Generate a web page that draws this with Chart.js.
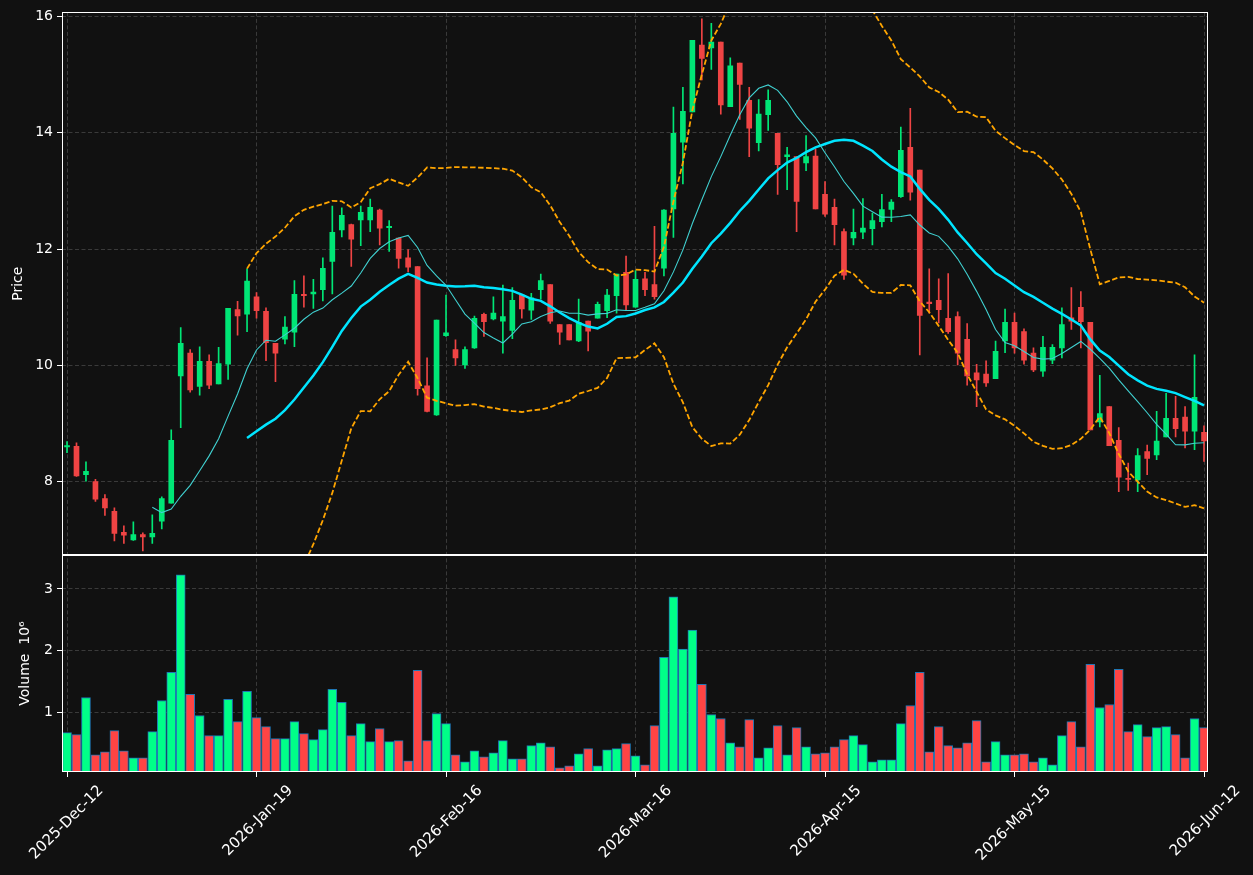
<!DOCTYPE html>
<html lang="en">
<head>
    <meta charset="UTF-8">
    <title>Candlestick with volume</title>
    <script src="https://cdn.jsdelivr.net/npm/chart.js"></script>
    <style>
        html, body { margin: 0; padding: 0; background: #111111; }
        #wrap { width: 1253px; height: 875px; }
    </style>
</head>
<body>
    <div id="wrap"><canvas id="myChart" width="1253" height="875"></canvas></div>

    <script>
        // daily bars, index 0 = 2025-Dec-12 ... index 120 = 2026-Jun-12
        const opens = [8.60, 8.61, 8.12, 8.00, 7.71, 7.49, 7.13, 7.00, 7.09, 7.05,
            7.32, 7.63, 9.82, 10.21, 9.64, 10.07, 9.68, 10.02, 10.96, 10.88,
            11.18, 10.93, 10.38, 10.45, 10.57, 11.22, 11.23, 11.30, 11.79, 12.33,
            12.42, 12.50, 12.50, 12.67, 12.37, 12.19, 11.85, 11.70, 9.65, 9.15,
            10.51, 10.27, 10.01, 10.30, 10.88, 10.80, 10.76, 10.60, 11.21, 10.95,
            11.30, 11.39, 10.70, 10.70, 10.42, 10.76, 10.81, 10.94, 11.20, 11.60,
            11.00, 11.49, 11.39, 11.67, 12.69, 13.84, 14.36, 15.51, 15.46, 15.56,
            14.45, 15.20, 14.56, 13.83, 14.31, 13.99, 13.59, 13.59, 13.48, 13.60,
            12.94, 12.72, 12.30, 12.19, 12.29, 12.35, 12.47, 12.68, 12.90, 13.75,
            13.36, 11.09, 11.12, 10.81, 10.84, 10.45, 9.87, 9.85, 9.77, 10.42,
            10.74, 10.58, 10.21, 9.90, 10.09, 10.30, 10.82, 11.00, 10.74, 9.03,
            9.29, 8.71, 8.06, 8.03, 8.52, 8.46, 8.77, 9.09, 9.11, 8.87, 8.85];
        const highs = [8.69, 8.67, 8.34, 8.04, 7.78, 7.55, 7.24, 7.31, 7.12, 7.43,
            7.74, 8.89, 10.65, 10.27, 10.32, 10.18, 10.31, 10.98, 11.10, 11.66,
            11.25, 10.99, 10.38, 10.84, 11.46, 11.54, 11.48, 11.85, 12.74, 12.71,
            12.43, 12.74, 12.86, 12.69, 12.49, 12.19, 11.99, 11.70, 10.13, 10.78,
            11.21, 10.44, 10.32, 10.85, 10.90, 11.18, 11.38, 11.34, 11.21, 11.24,
            11.57, 11.39, 10.70, 10.70, 11.14, 10.76, 11.09, 11.31, 11.57, 11.88,
            11.63, 11.60, 12.39, 12.68, 14.44, 14.78, 15.59, 15.96, 15.88, 15.56,
            15.29, 15.20, 14.78, 14.57, 14.74, 13.99, 13.75, 13.59, 13.95, 13.72,
            13.16, 12.86, 12.35, 12.69, 12.87, 12.62, 12.94, 12.85, 14.10, 14.42,
            13.36, 11.66, 11.49, 11.58, 10.92, 10.72, 10.02, 10.08, 10.42, 10.97,
            10.90, 10.63, 10.30, 10.50, 10.36, 10.99, 11.34, 11.27, 10.74, 9.83,
            9.29, 8.93, 8.32, 8.57, 8.63, 9.21, 9.52, 9.47, 9.29, 10.18, 8.96];
        const lows = [8.50, 8.09, 8.01, 7.66, 7.42, 6.98, 6.94, 6.99, 6.81, 6.94,
            7.19, 7.63, 8.93, 9.54, 9.49, 9.60, 9.68, 9.76, 10.52, 10.58,
            10.81, 10.08, 9.72, 10.37, 10.32, 11.00, 10.98, 11.11, 11.23, 12.21,
            11.70, 12.06, 12.30, 12.07, 11.96, 11.67, 11.61, 9.49, 9.20, 9.14,
            10.50, 10.00, 9.95, 10.29, 10.50, 10.78, 10.21, 10.46, 10.81, 10.79,
            11.14, 10.72, 10.36, 10.44, 10.41, 10.25, 10.81, 10.82, 10.90, 10.96,
            11.00, 11.20, 11.14, 11.54, 12.20, 13.12, 14.36, 14.91, 15.09, 14.32,
            14.45, 14.23, 13.59, 13.69, 14.04, 12.94, 13.02, 12.30, 13.35, 12.69,
            12.56, 12.07, 11.48, 12.07, 12.18, 12.07, 12.38, 12.47, 12.89, 12.84,
            10.18, 10.90, 10.73, 10.55, 10.01, 9.66, 9.29, 9.64, 9.77, 10.22,
            10.21, 10.02, 9.89, 9.81, 10.03, 10.13, 10.62, 10.30, 8.89, 8.94,
            8.62, 7.83, 7.85, 7.83, 8.12, 8.38, 8.77, 8.77, 8.58, 8.55, 8.35];
        const closes = [8.62, 8.10, 8.18, 7.70, 7.55, 7.11, 7.08, 7.09, 7.05, 7.11,
            7.71, 8.71, 10.38, 9.58, 10.07, 9.66, 10.03, 10.98, 10.85, 11.45,
            10.94, 10.39, 10.21, 10.66, 11.22, 11.20, 11.26, 11.67, 12.29, 12.58,
            12.17, 12.63, 12.72, 12.36, 12.39, 11.84, 11.69, 9.60, 9.21, 10.78,
            10.56, 10.13, 10.27, 10.81, 10.75, 10.90, 10.84, 11.12, 10.97, 11.16,
            11.46, 10.76, 10.57, 10.44, 10.74, 10.59, 11.05, 11.21, 11.57, 11.04,
            11.48, 11.30, 11.18, 12.67, 13.99, 14.37, 15.59, 15.28, 15.56, 14.48,
            15.15, 14.83, 14.08, 14.32, 14.56, 13.45, 13.62, 12.82, 13.59, 12.69,
            12.60, 12.42, 11.55, 12.29, 12.36, 12.49, 12.68, 12.81, 13.70, 12.98,
            10.86, 11.06, 10.96, 10.58, 10.21, 9.82, 9.75, 9.70, 10.24, 10.74,
            10.30, 10.09, 9.92, 10.31, 10.31, 10.70, 10.76, 10.75, 8.89, 9.17,
            8.62, 8.08, 8.04, 8.45, 8.40, 8.70, 9.09, 8.91, 8.87, 9.45, 8.70];
        // volume in millions
        const volumes = [0.668, 0.636, 1.239, 0.31, 0.359, 0.70, 0.375, 0.261, 0.261, 0.685,
            1.19, 1.647, 3.228, 1.288, 0.946, 0.62, 0.62, 1.207, 0.848, 1.337,
            0.913, 0.766, 0.571, 0.571, 0.848, 0.652, 0.554, 0.717, 1.37, 1.158,
            0.62, 0.815, 0.522, 0.734, 0.522, 0.538, 0.212, 1.679, 0.538, 0.978,
            0.815, 0.31, 0.196, 0.375, 0.277, 0.342, 0.538, 0.245, 0.245, 0.457,
            0.505, 0.44, 0.098, 0.13, 0.326, 0.408, 0.13, 0.391, 0.408, 0.489,
            0.293, 0.147, 0.783, 1.891, 2.87, 2.022, 2.332, 1.451, 0.962, 0.897,
            0.505, 0.44, 0.88, 0.261, 0.424, 0.783, 0.31, 0.75, 0.44, 0.326,
            0.342, 0.44, 0.554, 0.62, 0.473, 0.196, 0.228, 0.228, 0.815, 1.109,
            1.647, 0.359, 0.766, 0.457, 0.424, 0.505, 0.864, 0.196, 0.522, 0.31,
            0.31, 0.326, 0.196, 0.261, 0.147, 0.62, 0.848, 0.44, 1.777, 1.076,
            1.125, 1.696, 0.685, 0.799, 0.603, 0.75, 0.766, 0.636, 0.261, 0.897, 0.75];

        const xTickPos = [0, 20, 40, 60, 80, 100, 120];
        const xTickLabels = ['2025-Dec-12', '2026-Jan-19', '2026-Feb-16', '2026-Mar-16',
            '2026-Apr-15', '2026-May-15', '2026-Jun-12'];
        const priceTicks = [8, 10, 12, 14, 16];
        const volTicks = [1, 2, 3];

        // indicators derived from the closes
        function rolling(arr, n, fn) {
            return arr.map((_, i) => i < n - 1 ? null : fn(arr.slice(i - n + 1, i + 1)));
        }
        const mean = a => a.reduce((s, v) => s + v, 0) / a.length;
        const std = a => { const m = mean(a); return Math.sqrt(mean(a.map(v => (v - m) * (v - m)))); };
        const ma10 = rolling(closes, 10, mean);
        const ma20 = rolling(closes, 20, mean);
        const bbUp = rolling(closes, 20, a => mean(a) + 2 * std(a));
        const bbLo = rolling(closes, 20, a => mean(a) - 2 * std(a));

        const UP = '#00e676', DOWN = '#ef4444';
        const candleCol = closes.map((c, i) => c >= opens[i] ? UP : DOWN);
        const volCol = closes.map((c, i) => c >= opens[i] ? '#00ff88' : '#ff4444');

        const pts = arr => arr.map((v, i) => ({ x: i, y: v }));

        // keep each dataset inside its own panel, and frame the panels
        const panelPlugin = {
            id: 'panels',
            beforeDatasetDraw(chart, args) {
                const ys = chart.scales[args.meta.yAxisID];
                const a = chart.chartArea;
                chart.ctx.save();
                chart.ctx.beginPath();
                chart.ctx.rect(a.left, ys.top, a.right - a.left, ys.bottom - ys.top);
                chart.ctx.clip();
            },
            afterDatasetDraw(chart) {
                chart.ctx.restore();
            },
            afterDraw(chart) {
                const ctx = chart.ctx, a = chart.chartArea;
                ctx.save();
                ctx.strokeStyle = '#ffffff';
                ctx.lineWidth = 1;
                ['y', 'yVol'].forEach(id => {
                    const s = chart.scales[id];
                    ctx.strokeRect(a.left + 0.5, Math.round(s.top) + 0.5, a.right - a.left - 1, Math.round(s.bottom - s.top) - 1);
                });
                ctx.restore();
            }
        };

        Chart.defaults.font.family = 'DejaVu Sans';
        Chart.defaults.font.size = 14;
        Chart.defaults.color = '#ffffff';

        const gridCommon = {
            color: '#3a3a3a',
            lineWidth: 1,
            tickColor: '#ffffff',
            tickLength: 5,
            tickWidth: 1
        };

        new Chart(document.getElementById('myChart'), {
            type: 'bar',
            data: {
                datasets: [
                    { type: 'line', label: 'MA10', data: pts(ma10), yAxisID: 'y', borderColor: '#40d0d0', borderWidth: 1.1, pointRadius: 0, tension: 0, order: 0 },
                    { type: 'line', label: 'MA20', data: pts(ma20), yAxisID: 'y', borderColor: '#00e5ff', borderWidth: 2.5, pointRadius: 0, tension: 0, order: 0 },
                    { type: 'line', label: 'BB upper', data: pts(bbUp), yAxisID: 'y', borderColor: '#ffa500', borderWidth: 1.8, borderDash: [5.5, 2.5], pointRadius: 0, tension: 0, order: 0 },
                    { type: 'line', label: 'BB lower', data: pts(bbLo), yAxisID: 'y', borderColor: '#ffa500', borderWidth: 1.8, borderDash: [5.5, 2.5], pointRadius: 0, tension: 0, order: 0 },
                    { label: 'body', data: opens.map((o, i) => ({ x: i, y: [o, closes[i]] })), yAxisID: 'y', backgroundColor: candleCol, barThickness: 5, grouped: false, order: 1 },
                    { label: 'wick', data: lows.map((l, i) => ({ x: i, y: [l, highs[i]] })), yAxisID: 'y', backgroundColor: candleCol, barThickness: 1, grouped: false, order: 2 },
                    { label: 'volume', data: pts(volumes), yAxisID: 'yVol', backgroundColor: volCol, borderColor: '#1f77b4', borderWidth: 1, barThickness: 9, grouped: false, order: 3 }
                ]
            },
            options: {
                responsive: false,
                animation: false,
                devicePixelRatio: 1,
                layout: { padding: { top: 12, right: 45, left: 0, bottom: 0 } },
                plugins: { legend: { display: false }, tooltip: { enabled: false } },
                scales: {
                    x: {
                        type: 'linear',
                        min: -0.53,
                        max: 120.42,
                        offset: false,
                        grid: { ...gridCommon, offset: false },
                        border: { display: false, dash: [4, 2.5] },
                        afterBuildTicks: s => { s.ticks = xTickPos.map(v => ({ value: v })); },
                        afterFit: s => {
                            s.height = 103;
                            s.paddingLeft = 0;
                            s.paddingRight = 0;
                        },
                        ticks: {
                            autoSkip: false,
                            minRotation: 45,
                            maxRotation: 45,
                            padding: 5,
                            labelOffset: 34,
                            font: { size: 15 },
                            callback: v => xTickLabels[xTickPos.indexOf(v)]
                        }
                    },
                    y: {
                        type: 'linear',
                        position: 'left',
                        stack: 'panels',
                        stackWeight: 2.5,
                        weight: 2,
                        min: 6.74,
                        max: 16.07,
                        grid: gridCommon,
                        border: { display: false, dash: [4, 2.5] },
                        afterBuildTicks: s => { s.ticks = priceTicks.map(v => ({ value: v })); },
                        afterFit: s => { s.width = 62; },
                        ticks: { padding: 4 },
                        title: { display: true, text: 'Price', padding: { top: 10, bottom: 0 } }
                    },
                    yVol: {
                        type: 'linear',
                        position: 'left',
                        stack: 'panels',
                        stackWeight: 1,
                        weight: 1,
                        min: 0.03,
                        max: 3.55,
                        grid: gridCommon,
                        border: { display: false, dash: [4, 2.5] },
                        afterBuildTicks: s => { s.ticks = volTicks.map(v => ({ value: v })); },
                        afterFit: s => { s.width = 62; },
                        ticks: { padding: 4 },
                        title: { display: true, text: 'Volume  10\u2076', padding: { top: 17, bottom: 0 } }
                    }
                }
            },
            plugins: [panelPlugin]
        });
    </script>
</body>
</html>
